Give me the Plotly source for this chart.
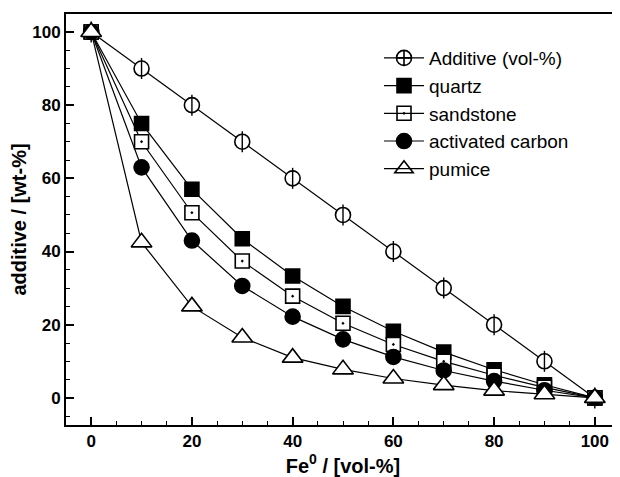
import plotly.graph_objects as go

fe_vol = [0, 10, 20, 30, 40, 50, 60, 70, 80, 90, 100]
additive_vol = [100, 90, 80, 70, 60, 50, 40, 30, 20, 10, 0]
quartz = [100, 75, 57, 43.5, 33.3, 25, 18.2, 12.5, 7.7, 3.6, 0]
sandstone = [100, 70, 50.6, 37.4, 27.8, 20.4, 14.6, 10, 6.2, 2.9, 0]
activated_carbon = [100, 63, 43, 30.6, 22.2, 16, 11.2, 7.5, 4.6, 2.1, 0]
pumice = [100, 42.5, 25, 16.5, 11, 7.8, 5.3, 3.5, 2.0, 1.0, 0]

x_ticks = [0, 20, 40, 60, 80, 100]
y_ticks = [0, 20, 40, 60, 80, 100]

FONT = "Liberation Sans, Arial, sans-serif"
fig = go.Figure()

series = [
    ("Additive (vol-%)", additive_vol, "circle", "white", 15),
    ("quartz", quartz, "square", "black", 14),
    ("sandstone", sandstone, "square-dot", "white", 14),
    ("activated carbon", activated_carbon, "circle", "black", 15),
    ("pumice", pumice, "triangle-up", "white", 18),
]

for name, vals, sym, fill, size in series:
    fig.add_trace(go.Scatter(
        x=fe_vol, y=vals, mode="lines+markers", name=name,
        line=dict(color="black", width=1.2),
        marker=dict(symbol=sym, size=size, color=fill,
                    line=dict(color="black", width=1.6)),
        showlegend=False,
    ))
    if name.startswith("Additive"):
        fig.add_trace(go.Scatter(
            x=fe_vol, y=vals, mode="markers", showlegend=False,
            marker=dict(symbol="line-ns", size=15,
                        line=dict(color="black", width=1.4)),
        ))

# legend entries
legend_syms = [
    ("Additive (vol-%)", "circle-cross-open", 15),
    ("quartz", "square", 14),
    ("sandstone", "square-open-dot", 14),
    ("activated carbon", "circle", 15),
    ("pumice", "triangle-up-open", 18),
]
for name, sym, size in legend_syms:
    fig.add_trace(go.Scatter(
        x=[None], y=[None], mode="lines+markers", name=name,
        line=dict(color="black", width=1.2),
        marker=dict(symbol=sym, size=size, color="black",
                    line=dict(color="black", width=1.6)),
    ))

axis_common = dict(
    showgrid=False, zeroline=False, showline=True, linecolor="black", linewidth=2,
    ticks="inside", ticklen=8, tickwidth=1.5, tickcolor="black",
    tickfont=dict(family=FONT, size=17, color="black", weight="bold"),
)

fig.update_layout(
    width=612, height=469,
    margin=dict(l=58, r=0, t=6, b=52, autoexpand=False),
    paper_bgcolor="white", plot_bgcolor="white",
    font=dict(family=FONT, color="black"),
    xaxis=dict(range=[-5, 105], tickvals=x_ticks, mirror=True,
               minor=dict(dtick=5, ticks="inside", ticklen=4, tickwidth=1.2, tickcolor="black"),
               title=dict(text="Fe<sup>0</sup> / [vol-%]", standoff=0,
                          font=dict(family=FONT, size=20, color="black", weight="bold")),
               automargin=False, **axis_common),
    yaxis=dict(range=[-7.4, 104.9], tickvals=y_ticks,
               minor=dict(dtick=5, ticks="inside", ticklen=4, tickwidth=1.2, tickcolor="black"),
               title=dict(text="additive / [wt-%]", standoff=0,
                          font=dict(family=FONT, size=20, color="black", weight="bold")),
               automargin=False, **axis_common),
    legend=dict(x=0.565, y=0.939, xanchor="left", yanchor="top",
                font=dict(family=FONT, size=19, color="black"),
                bgcolor="rgba(0,0,0,0)", tracegroupgap=0, itemwidth=40),
)

fig.write_html("out.html")
